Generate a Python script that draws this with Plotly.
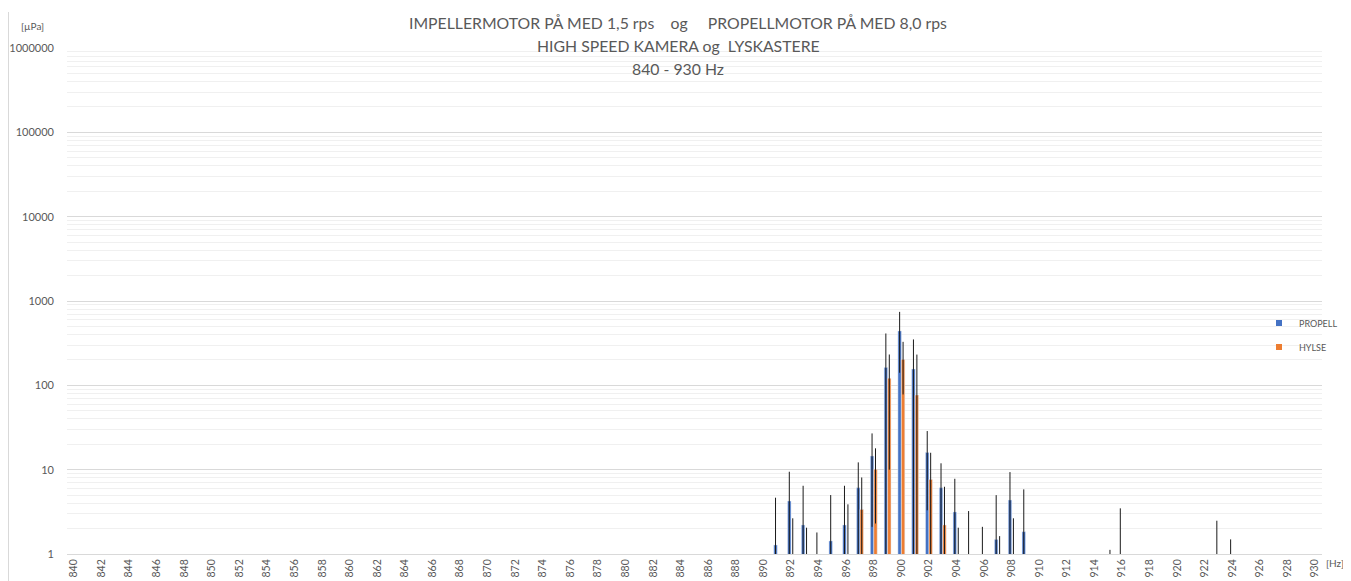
import plotly.graph_objects as go

# ---- data ----
hz = [891, 892, 893, 894, 895, 896, 897, 898, 899, 900, 901, 902, 903, 904,
      905, 906, 907, 908, 909, 915, 916, 923, 924]
propell = [1.28, 4.25, 2.21, 0.5, 1.43, 2.21, 6.1, 14.5, 163, 442, 156, 16.0, 6.1, 3.15,
           0.6, 0.5, 1.49, 4.36, 1.84, None, 0.5, 0.5, 0.5]
propell_err = [3.37, 5.2, 4.23, 1.3, 3.57, 4.23, 6.1, 12.4, 249, 301, 194, 12.7, 5.8, 4.65,
               2.63, 1.6, 3.5, 5.0, 4.0, None, 2.98, 1.98, 0.99]
hylse = [None, 0.6, 0.5, None, None, 0.7, 3.38, 10.1, 121, 203, 76.6, 7.67, 2.21, 0.5,
         None, None, 0.4, 0.6, None, 0.3, None, None, None]
hylse_err = [None, 2.05, 1.55, None, None, 3.18, 4.7, 7.8, 111, 125, 155, 8.2, 4.06, 1.55,
             None, None, 1.23, 2.05, None, 0.82, None, None, None]

x_ticks = list(range(840, 931, 2))
title_lines = [
    "IMPELLERMOTOR PÅ MED 1,5 rps\u00a0\u00a0\u00a0 og \u00a0\u00a0\u00a0 PROPELLMOTOR PÅ MED 8,0 rps",
    "HIGH SPEED KAMERA og\u00a0 LYSKASTERE",
    "840 - 930 Hz",
]

BLUE = "#4472C4"
ORANGE = "#ED7D31"
GREY = "#595959"
FONT = "Lato"

# the page body has an 8px margin, so the figure is drawn 8px in from the corner
OFF = 8
W, H = 1351 - OFF, 581 - OFF
L, R, T, B = 67 - OFF, 29, 48 - OFF, 27
pw, ph = W - L - R, H - T - B


def py(pix):  # screenshot pixel y -> paper y
    return (H - B - (pix - OFF)) / ph


def px(pix):  # screenshot pixel x -> paper x
    return (pix - OFF - L) / pw


fig = go.Figure()
fig.add_trace(go.Bar(
    x=hz, y=propell, name="PROPELL", marker_color=BLUE, showlegend=False,
    error_y=dict(type="data", array=propell_err, visible=True, color="#1a1a1a",
                 thickness=1, width=0),
))
fig.add_trace(go.Bar(
    x=hz, y=hylse, name="HYLSE", marker_color=ORANGE, showlegend=False,
    error_y=dict(type="data", array=hylse_err, visible=True, color="#1a1a1a",
                 thickness=1, width=0),
))
# legend entries
fig.add_trace(go.Scatter(x=[None], y=[None], mode="markers", name="PROPELL",
                         marker=dict(symbol="square", size=6, color=BLUE), legend="legend"))
fig.add_trace(go.Scatter(x=[None], y=[None], mode="markers", name="HYLSE",
                         marker=dict(symbol="square", size=6, color=ORANGE), legend="legend2"))

annotations = []
for txt, yy in zip(title_lines, [22, 45, 68]):
    annotations.append(dict(text=txt, x=px(678), y=py(yy), xref="paper", yref="paper",
                            showarrow=False, xanchor="center", yanchor="middle",
                            font=dict(family=FONT, size=15.8, color=GREY)))
annotations.append(dict(text="[µPa]", x=px(32), y=py(26), xref="paper", yref="paper",
                        showarrow=False, xanchor="center", yanchor="middle",
                        font=dict(family=FONT, size=10, color=GREY)))
annotations.append(dict(text="[Hz]", x=px(1324), y=py(563), xref="paper", yref="paper",
                        showarrow=False, xanchor="left", yanchor="middle",
                        font=dict(family=FONT, size=10, color=GREY)))

legend_common = dict(xref="paper", yref="paper", xanchor="left", yanchor="middle",
                     bgcolor="rgba(0,0,0,0)", borderwidth=0,
                     font=dict(family=FONT, size=9, color=GREY))

fig.update_layout(
    width=W, height=H,
    margin=dict(l=L, r=R, t=T, b=B, autoexpand=False),
    paper_bgcolor="white", plot_bgcolor="white",
    barmode="group", bargap=0.5, bargroupgap=0,
    annotations=annotations,
    legend=dict(x=px(1259), y=py(323), **legend_common),
    legend2=dict(x=px(1259), y=py(347), **legend_common),
    shapes=[dict(type="line", xref="paper", yref="paper", x0=px(OFF + 0.5), x1=px(OFF + 0.5),
                 y0=py(581), y1=py(12), line=dict(color="#d9d9d9", width=1))],
    font=dict(family=FONT, color=GREY),
)
fig.update_xaxes(
    range=[839.5, 930.5], tickmode="array", tickvals=x_ticks,
    ticktext=[str(v) for v in x_ticks], tickangle=-90, automargin=False,
    showgrid=False, zeroline=False, showline=True, linecolor="#d9d9d9",
    ticks="", tickfont=dict(family=FONT, size=10.5, color=GREY),
)
fig.update_yaxes(
    type="log", range=[0, 6], dtick=1, tickformat="d", automargin=False,
    showgrid=True, gridcolor="#d9d9d9", gridwidth=1, zeroline=False,
    showline=False, ticks="", ticklabelstandoff=12,
    tickfont=dict(family=FONT, size=11, color=GREY),
    minor=dict(showgrid=True, dtick="D1", gridcolor="#f0f0f0", gridwidth=1, ticks=""),
)

fig.write_html("out.html")
